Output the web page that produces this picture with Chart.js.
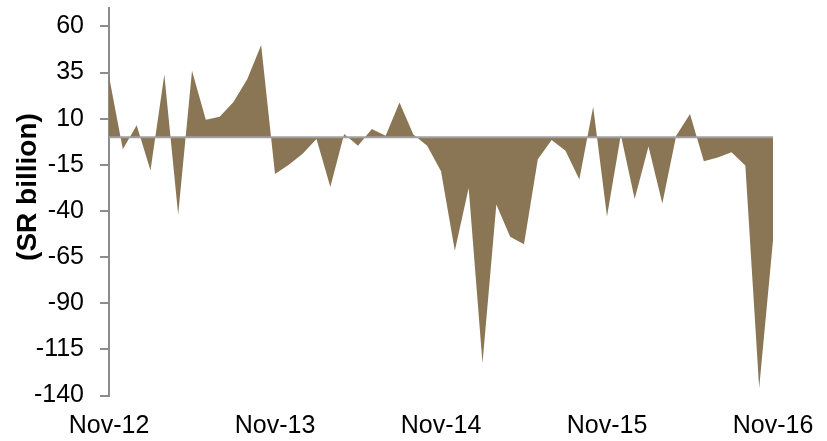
<!DOCTYPE html>
<html>
<head>
<meta charset="utf-8">
<script src="https://cdn.jsdelivr.net/npm/chart.js@4.4.1/dist/chart.umd.min.js"></script>
<style>
  html, body { margin: 0; padding: 0; background: #fff; }
  #wrap { width: 827px; height: 441px; position: relative; }
</style>
</head>
<body>
<div id="wrap"><canvas id="c"></canvas></div>
<script>
const months = [
  'Nov-12', 'Dec-12', 'Jan-13', 'Feb-13', 'Mar-13', 'Apr-13', 'May-13', 'Jun-13', 'Jul-13', 'Aug-13', 'Sep-13', 'Oct-13',
  'Nov-13', 'Dec-13', 'Jan-14', 'Feb-14', 'Mar-14', 'Apr-14', 'May-14', 'Jun-14', 'Jul-14', 'Aug-14', 'Sep-14', 'Oct-14',
  'Nov-14', 'Dec-14', 'Jan-15', 'Feb-15', 'Mar-15', 'Apr-15', 'May-15', 'Jun-15', 'Jul-15', 'Aug-15', 'Sep-15', 'Oct-15',
  'Nov-15', 'Dec-15', 'Jan-16', 'Feb-16', 'Mar-16', 'Apr-16', 'May-16', 'Jun-16', 'Jul-16', 'Aug-16', 'Sep-16', 'Oct-16',
  'Nov-16'
];
// monthly values, SR billion
const values = [
  33, -6.5, 6.5, -18, 34, -42, 36, 9.5, 11, 19, 31.5, 50,
  -20, -15, -9, -1, -27, 1.7, -4.6, 4.4, 0.8, 18.8, 1.5, -4.6,
  -18.5, -61.5, -27.5, -122.5, -36.5, -54, -58, -12, -1.5, -7.3, -23, 16.5,
  -43, 1.2, -33.5, -5, -36, 0.8, 12.5, -13, -11, -8.2, -15.4, -136,
  -56
];
const baseline = months.map(() => 0);
const yTicks = [-140, -115, -90, -65, -40, -15, 10, 35, 60];
const shownLabels = ['Nov-12', 'Nov-13', 'Nov-14', 'Nov-15', 'Nov-16'];

const FONT = '"Liberation Sans", Arial, sans-serif';

// axis title, drawn by hand so it sits where the original has it
const yTitle = {
  id: 'yTitle',
  afterDraw(chart) {
    const ctx = chart.ctx;
    ctx.save();
    ctx.translate(28, 187);
    ctx.rotate(-Math.PI / 2);
    ctx.font = 'bold 28px ' + FONT;
    ctx.fillStyle = '#000';
    ctx.textAlign = 'center';
    ctx.textBaseline = 'middle';
    ctx.fillText('(SR billion)', 0, 0);
    ctx.restore();
  }
};

new Chart(document.getElementById('c'), {
  type: 'line',
  data: {
    labels: months,
    datasets: [
      { data: baseline, borderColor: '#a0a0a0', borderWidth: 2, pointRadius: 0, fill: false, order: 0 },
      { data: values, borderWidth: 0, borderColor: 'rgba(0,0,0,0)', backgroundColor: '#8a7654',
        fill: 'origin', pointRadius: 0, tension: 0, order: 1 },
    ],
  },
  options: {
    responsive: true,
    maintainAspectRatio: false,
    animation: false,
    layout: { padding: { left: 0, right: 54, top: 8, bottom: 0 } },
    plugins: { legend: { display: false }, tooltip: { enabled: false } },
    scales: {
      x: {
        offset: false,
        grid: { display: false, drawTicks: false },
        border: { display: false },
        ticks: {
          autoSkip: false, maxRotation: 0, minRotation: 0, padding: 16,
          color: '#000', font: { family: FONT, size: 25 },
          callback: (v, i) => shownLabels.includes(months[i]) ? months[i] : '',
        },
        afterFit: s => { s.height = 45.5; s.paddingLeft = 0; s.paddingRight = 0; },
      },
      y: {
        min: -140, max: 70,
        afterBuildTicks: s => { s.ticks = yTicks.map(v => ({ value: v })); },
        grid: { drawOnChartArea: false, drawTicks: true, tickLength: 9, color: '#8c8c8c', lineWidth: 2 },
        border: { display: true, color: '#8c8c8c', width: 2 },
        ticks: { padding: 16, color: '#000', font: { family: FONT, size: 25 } },
        afterFit: s => { s.width = 109; s.paddingTop = 0; s.paddingBottom = 0; },
      },
    },
  },
  plugins: [yTitle],
});
</script>
</body>
</html>
